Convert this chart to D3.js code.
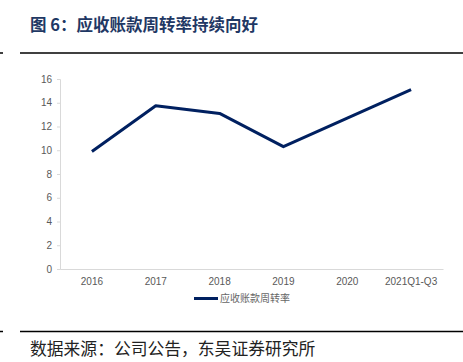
<!DOCTYPE html>
<html>
<head>
<meta charset="utf-8">
<script src="https://cdn.jsdelivr.net/npm/d3@7"></script>
<style>
  body { margin: 0; background: #fff; overflow: hidden; }
  svg { display: block; }
</style>
</head>
<body>
<svg width="463" height="362"></svg>
<script>
const width = 463;
const height = 362;

// data
const years = ['2016', '2017', '2018', '2019', '2020', '2021Q1-Q3'];
const turnover = [9.9, 13.75, 13.1, 10.3, 12.7, 15.1];
const yTicks = [0, 2, 4, 6, 8, 10, 12, 14, 16];
const seriesName = '应收账款周转率';

const svg = d3.select('svg');

const margin = { top: 79, left: 60, right: 20, bottom: 93 };
const innerWidth = width - margin.left - margin.right;
const innerHeight = height - margin.top - margin.bottom;

// title + rules
svg.append('text')
    .text('图 6：应收账款周转率持续向好')
    .attr('x', 30)
    .attr('y', 31)
    .attr('font-family', '"Noto Sans CJK SC", sans-serif')
    .attr('font-weight', 'bold')
    .attr('font-size', 16.5)
    .attr('fill', '#1f3864');

[53, 331.5].forEach(y => {
    svg.append('line')
        .attr('x1', 20).attr('x2', width)
        .attr('y1', y).attr('y2', y)
        .attr('stroke', '#000').attr('stroke-width', 1.5);
    svg.append('line')
        .attr('x1', 0).attr('x2', 3)
        .attr('y1', y).attr('y2', y)
        .attr('stroke', '#000').attr('stroke-width', 1.5);
});

svg.append('text')
    .text('数据来源：公司公告，东吴证券研究所')
    .attr('x', 30)
    .attr('y', 355)
    .attr('font-family', '"Noto Sans CJK SC", sans-serif')
    .attr('font-size', 16.8)
    .attr('fill', '#222');

const g = svg.append('g')
    .attr('transform', 'translate(' + margin.left + ', ' + margin.top + ')');

const xScale = d3.scaleBand()
    .domain(years)
    .range([0, innerWidth]);

const yScale = d3.scaleLinear()
    .domain([0, 16])
    .range([innerHeight, 0]);

const yAxisG = g.append('g')
    .call(d3.axisLeft(yScale).tickValues(yTicks).tickSize(3).tickPadding(5));
yAxisG.selectAll('.domain').attr('stroke', '#d9d9d9');
yAxisG.selectAll('.tick line').attr('stroke', '#d9d9d9');
yAxisG.selectAll('.tick text')
    .attr('fill', '#595959')
    .attr('font-size', 10)
    .attr('font-family', '"Liberation Sans", Arial, sans-serif');

const xAxisG = g.append('g')
    .attr('transform', 'translate(0, ' + innerHeight + ')')
    .call(d3.axisBottom(xScale).tickSize(0).tickPadding(9));
xAxisG.selectAll('.domain').attr('stroke', '#d9d9d9');
xAxisG.selectAll('.tick text')
    .attr('fill', '#595959')
    .attr('font-size', 10)
    .attr('font-family', '"Liberation Sans", Arial, sans-serif');

const line = d3.line()
    .x((d, i) => xScale(years[i]) + xScale.bandwidth() / 2)
    .y(d => yScale(d));

g.append('path')
    .datum(turnover)
    .attr('d', line)
    .attr('fill', 'none')
    .attr('stroke', '#002060')
    .attr('stroke-width', 3)
    .attr('stroke-linejoin', 'round');

// legend
const legend = svg.append('g').attr('transform', 'translate(194, 298.5)');
legend.append('line')
    .attr('x1', 0).attr('x2', 24)
    .attr('stroke', '#002060').attr('stroke-width', 3);
legend.append('text')
    .text(seriesName)
    .attr('x', 26)
    .attr('y', 3.5)
    .attr('font-family', '"Noto Sans CJK SC", sans-serif')
    .attr('font-size', 10)
    .attr('fill', '#666');
</script>
</body>
</html>
